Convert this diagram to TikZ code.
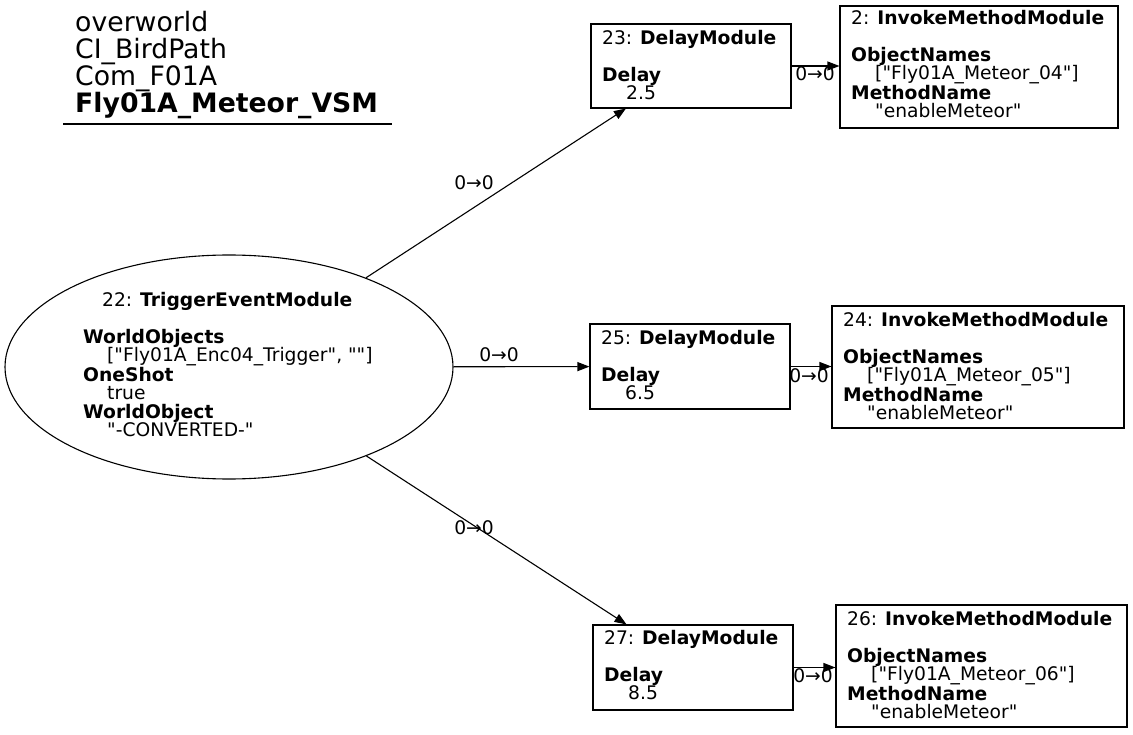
\documentclass[tikz,border=0pt]{standalone}
\usepackage{fontspec}
\setmainfont{DejaVu Sans}
\usetikzlibrary{arrows.meta,shapes.geometric}
\tikzset{
  body/.style={font=\fontsize{18.7}{18.5}\selectfont},
  lbl/.style={body,anchor=north west,inner sep=0pt,align=left},
  elabel/.style={body,inner sep=0pt},
  conn/.style={line width=1.1pt,-{Triangle[length=12pt,width=9pt]}},
}
\newcommand{\fs}{\rule{0pt}{15pt}}
\newcommand{\ind}{\hspace*{24pt}}
\newcommand{\q}{\textquotedbl}
\begin{document}
\begin{tikzpicture}[x=1pt,y=-1pt]
\useasboundingbox (0,0) rectangle (1133,735);
% title
\node[anchor=north west,inner sep=0pt,align=left,font=\fontsize{26.7}{27}\selectfont] (title) at (75,9)
 {\rule{0pt}{22pt}overworld\\CI\_BirdPath\\Com\_F01A\\\textbf{Fly01A\_Meteor\_VSM}};
\coordinate (ul1) at (63,124);
\coordinate (ul2) at (392,124);
\draw[line width=1.1pt] (ul1) -- (ul2);
% ellipse
\node[draw,ellipse,line width=1.1pt,minimum width=448pt,minimum height=224pt,inner sep=0pt] (e) at (229,367) {};
\node[lbl] (et) at (83,291) {\hspace*{19pt}\fs 22: \textbf{TriggerEventModule}\\[18.5pt]
\textbf{WorldObjects}\\\ind[\q Fly01A\_Enc04\_Trigger\q, \q\q]\\\textbf{OneShot}\\\ind true\\\textbf{WorldObject}\\\ind\q-CONVERTED-\q};
% delay boxes
\node[draw,line width=1.1pt,minimum width=200pt,minimum height=84pt,inner sep=0pt] (d23) at (691,66) {};
\node[lbl] (t23) at (602,29) {\fs 23: \textbf{DelayModule}\\[18.5pt]\textbf{Delay}\\\ind 2.5};
\node[draw,line width=1.1pt,minimum width=200pt,minimum height=85pt,inner sep=0pt] (d25) at (690,366.5) {};
\node[lbl] (t25) at (601,329) {\fs 25: \textbf{DelayModule}\\[18.5pt]\textbf{Delay}\\\ind 6.5};
\node[draw,line width=1.1pt,minimum width=200pt,minimum height=85pt,inner sep=0pt] (d27) at (693,667.5) {};
\node[lbl] (t27) at (604,629) {\fs 27: \textbf{DelayModule}\\[18.5pt]\textbf{Delay}\\\ind 8.5};
% invoke boxes
\node[draw,line width=1.1pt,minimum width=278pt,minimum height=122pt,inner sep=0pt] (i2) at (979,67) {};
\node[lbl] (t2) at (851,9) {\fs 2: \textbf{InvokeMethodModule}\\[18.5pt]\textbf{ObjectNames}\\\ind[\q Fly01A\_Meteor\_04\q]\\\textbf{MethodName}\\\ind\q enableMeteor\q};
\node[draw,line width=1.1pt,minimum width=292pt,minimum height=122pt,inner sep=0pt] (i24) at (978,367) {};
\node[lbl] (t24) at (843,311) {\fs 24: \textbf{InvokeMethodModule}\\[18.5pt]\textbf{ObjectNames}\\\ind[\q Fly01A\_Meteor\_05\q]\\\textbf{MethodName}\\\ind\q enableMeteor\q};
\node[draw,line width=1.1pt,minimum width=291pt,minimum height=122pt,inner sep=0pt] (i26) at (981.5,666) {};
\node[lbl] (t26) at (847,610) {\fs 26: \textbf{InvokeMethodModule}\\[18.5pt]\textbf{ObjectNames}\\\ind[\q Fly01A\_Meteor\_06\q]\\\textbf{MethodName}\\\ind\q enableMeteor\q};
% connectors
\draw[conn] (e) -- (d23);
\draw[conn] (e) -- (d25);
\draw[conn] (e) -- (d27);
\draw[conn] (d23.east) -- (d23.east -| i2.west);
\draw[conn] (d25.east) -- (d25.east -| i24.west);
\draw[conn] (d27.east) -- (d27.east -| i26.west);
% labels
\node[elabel] (l1) at (474,183) {0→0};
\node[elabel] (l2) at (499,355) {0→0};
\node[elabel] (l3) at (474,528) {0→0};
\node[elabel] (l4) at (815,74) {0→0};
\node[elabel] (l5) at (809,376) {0→0};
\node[elabel] (l6) at (813,676) {0→0};
\end{tikzpicture}
\end{document}
